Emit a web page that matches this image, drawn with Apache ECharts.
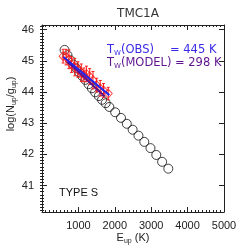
<!DOCTYPE html>
<html><head><meta charset="utf-8">
<script src="https://cdn.jsdelivr.net/npm/echarts@6/dist/echarts.min.js"></script>
<style>html,body{margin:0;padding:0;background:#fff}#c{width:249px;height:249px}</style>
</head><body><div id="c"></div>
<script>
// ---- data ----
const titleText = 'TMC1A';
const modelE    = [620, 700, 780, 860, 940, 1020, 1100, 1190, 1280, 1370, 1460, 1560, 1650, 1750, 1850, 2010, 2170, 2330, 2490, 2650, 2810, 2980, 3140, 3300, 3470];
const modelLogN = [45.35, 45.18, 45.02, 44.88, 44.76, 44.63, 44.52, 44.39, 44.25, 44.12, 43.99, 43.87, 43.75, 43.64, 43.52, 43.35, 43.17, 42.98, 42.79, 42.60, 42.40, 42.20, 41.98, 41.76, 41.54];
const obsE      = [580, 660, 740, 810, 900, 990, 1080, 1150, 1220, 1310, 1400, 1500, 1600, 1690, 1820];
const obsLogN   = [45.15, 45.12, 45.05, 44.88, 44.80, 44.72, 44.62, 44.55, 44.58, 44.50, 44.38, 44.22, 44.12, 44.05, 43.95];
const obsErr    = [0.22, 0.25, 0.30, 0.25, 0.28, 0.25, 0.28, 0.22, 0.25, 0.25, 0.28, 0.22, 0.25, 0.22, 0.20];
const fitObsE   = [590, 1850];
const fitObsLogN = [45.12, 43.90];
const fitModelE = [700, 1720];
const fitModelLogN = [44.97, 43.86];
const xTickVals = [1000, 2000, 3000, 4000, 5000];
const yTickVals = [41, 42, 43, 44, 45, 46];
const xRange = [0, 5000];
const yRange = [40.15, 46.15];
const tObs = 445, tModel = 298;
const typeLabel = 'TYPE S';

// ---- build ----
const FONT = 'Liberation Sans';
const FONT2 = 'DejaVu Sans';
const AX = '#222';
const yMinor = [];
for (let k = Math.ceil(yRange[0]*10); k <= Math.floor(yRange[1]*10); k++) yMinor.push(k/10);

function yAxisMajor(pos) {
  return {
    type: 'value', position: pos, min: yRange[0], max: yRange[1], gridIndex: 0,
    axisLine: {show: true, onZero: false, lineStyle: {color: AX, width: 1}},
    axisTick: {show: true, inside: true, length: 5, customValues: yTickVals, lineStyle: {color: AX}},
    axisLabel: {show: pos === 'left', customValues: yTickVals, margin: 8, color: AX, fontFamily: FONT, fontSize: 11},
    splitLine: {show: false}
  };
}
function yAxisMinor(pos) {
  return {
    type: 'value', position: pos, min: yRange[0], max: yRange[1], gridIndex: 0,
    axisLine: {show: false},
    axisTick: {show: true, inside: true, length: 2, customValues: yMinor, lineStyle: {color: AX}},
    axisLabel: {show: false}, splitLine: {show: false}
  };
}
function xAxisDef(pos) {
  return {
    type: 'value', position: pos, min: xRange[0], max: xRange[1], interval: 1000,
    axisLine: {show: true, onZero: false, lineStyle: {color: AX, width: 1}},
    axisTick: {show: true, inside: true, length: 5, lineStyle: {color: AX}},
    minorTick: {show: true, splitNumber: 10, length: 2, lineStyle: {color: AX}},
    axisLabel: {show: pos === 'bottom', margin: 8, color: AX, fontFamily: FONT, fontSize: 11,
      formatter: v => (xTickVals.indexOf(v) >= 0 ? String(v) : '')},
    splitLine: {show: false}, minorSplitLine: {show: false}
  };
}

const chart = echarts.init(document.getElementById('c'), null, {renderer: 'canvas'});
const subStyle = (c, fs, f) => ({fontSize: fs, fontFamily: f || FONT, fill: c, padding: [7, 0, 0, 0]});
const mainStyle = (c, fs, f) => ({fontSize: fs, fontFamily: f || FONT, fill: c});
const BLUE_T = '#3a2ae6', PURP_T = '#5e1590';

const option = {
  animation: false,
  backgroundColor: '#fff',
  title: {text: titleText, left: 133, top: 3, textAlign: 'center',
    textStyle: {fontFamily: FONT2, fontSize: 12, fontWeight: 'normal', color: '#333'}},
  grid: {left: 42, top: 25, right: 25, bottom: 37, containLabel: false},
  xAxis: [xAxisDef('bottom'), xAxisDef('top')],
  yAxis: [yAxisMajor('left'), yAxisMajor('right'), yAxisMinor('left'), yAxisMinor('right')],
  series: [
    {type: 'scatter', symbol: 'circle', symbolSize: 9, z: 2,
     itemStyle: {color: 'rgba(0,0,0,0)', borderColor: '#111', borderWidth: 1},
     data: modelE.map((e, i) => [e, modelLogN[i]])},
    {type: 'custom', z: 3,
     renderItem: function (params, api) {
       const x = api.value(0), lo = api.value(1), hi = api.value(2);
       const p1 = api.coord([x, lo]), p2 = api.coord([x, hi]);
       const st = {stroke: '#ff1a1a', lineWidth: 1};
       return {type: 'group', children: [
         {type: 'line', shape: {x1: p1[0], y1: p1[1], x2: p2[0], y2: p2[1]}, style: st},
         {type: 'line', shape: {x1: p1[0]-1.5, y1: p1[1], x2: p1[0]+1.5, y2: p1[1]}, style: st},
         {type: 'line', shape: {x1: p2[0]-1.5, y1: p2[1], x2: p2[0]+1.5, y2: p2[1]}, style: st}
       ]};
     },
     data: obsE.map((e, i) => [e, obsLogN[i] - obsErr[i], obsLogN[i] + obsErr[i]])},
    {type: 'scatter', symbol: 'diamond', symbolSize: [8, 9], z: 4,
     itemStyle: {color: 'rgba(0,0,0,0)', borderColor: '#ff1a1a', borderWidth: 1},
     data: obsE.map((e, i) => [e, obsLogN[i]])},
    {type: 'line', showSymbol: false, z: 5, lineStyle: {color: '#5a1090', width: 2},
     data: fitModelE.map((e, i) => [e, fitModelLogN[i]])},
    {type: 'line', showSymbol: false, z: 6, lineStyle: {color: '#2222ee', width: 2},
     data: fitObsE.map((e, i) => [e, fitObsLogN[i]])}
  ],
  graphic: [
    {type: 'text', left: 107, top: 44, z: 10, style: {
      text: '{m|T}{s|W}{m|(OBS)}',
      rich: {m: mainStyle(BLUE_T, 11.5, FONT2), s: subStyle(BLUE_T, 7, FONT2)}}},
    {type: 'text', left: 170, top: 44, z: 10, style: {
      text: '= ' + tObs + ' K', fontFamily: FONT2, fontSize: 11.5, fill: BLUE_T}},
    {type: 'text', left: 107, top: 57, z: 10, style: {
      text: '{m|T}{s|W}{m|(MODEL)}',
      rich: {m: mainStyle(PURP_T, 11.5, FONT2), s: subStyle(PURP_T, 7, FONT2)}}},
    {type: 'text', left: 175, top: 57, z: 10, style: {
      text: '= ' + tModel + ' K', fontFamily: FONT2, fontSize: 11.5, fill: PURP_T}},
    {type: 'text', left: 59, top: 187, z: 10, style: {
      text: typeLabel, fontFamily: FONT, fontSize: 11, fill: '#111'}},
    {type: 'text', x: 133, y: 238, z: 10, style: {
      text: '{m|E}{s|up}{m| (K)}', align: 'center', verticalAlign: 'middle',
      rich: {m: mainStyle('#222', 11), s: subStyle('#222', 7)}}},
    {type: 'text', x: 11, y: 104, rotation: Math.PI / 2, z: 10, style: {
      text: '{m|log(N}{s|up}{m|/g}{s|up}{m|)}', align: 'center', verticalAlign: 'middle',
      rich: {m: mainStyle('#222', 11), s: subStyle('#222', 7)}}}
  ]
};
chart.setOption(option);
</script></body></html>
